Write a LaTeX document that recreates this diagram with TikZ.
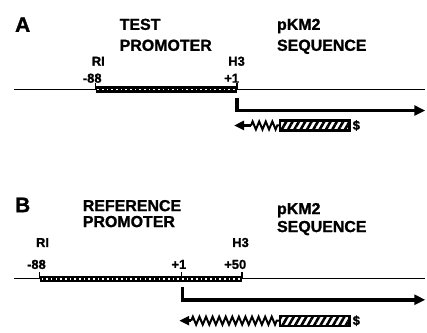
\documentclass[tikz,border=0pt]{standalone}
\usepackage{fontspec}
\setmainfont{Liberation Sans}[BoldFeatures={FakeBold=1.2}]
\usepackage{tikz}
\usetikzlibrary{patterns,patterns.meta}
\usetikzlibrary{arrows.meta,calc,decorations.pathmorphing}
\tikzset{
  pics/caja/.default={70},
  pics/caja/.style = {
    code = {
    \draw[pic actions] (0,-5) rectangle (#1,5);
    }
  },
  letra/.style={font=\bfseries\fontsize{21}{21}\selectfont, inner sep=0pt, anchor=base west},
  rotulo/.style={font=\bfseries\fontsize{16}{16}\selectfont, inner sep=0pt, anchor=base west},
  marca/.style={font=\bfseries\fontsize{13}{13}\selectfont, inner sep=0pt, anchor=base west}
}
\newcommand{\linea}[1]{
  \draw[line width=1.2pt] (14,#1) -- (427,#1);
}
\newcommand{\barra}[3]{
\pgfmathsetmacro\nd{int((#3-#2-5)/4.7)};
 \fill (#2,#1-3.3) rectangle (#3,#1+3.3);
 \foreach \i in {0,...,\nd}{
       \fill[white] (#2+2.5+\i*4.7-0.8,#1-0.8) rectangle +(1.6,1.6);
     }
 \foreach \x in {#2,#3}{
       \draw[line width=1.2pt] (\x,#1-7) -- (\x,#1);
     }}
\newcommand{\transc}[2]{
 \draw[line width=3.5pt, -{Triangle[length=11pt,width=10pt]}] (#1,#2-13) |- (427,#2);
}
\newcommand{\sonda}[4]{
 \draw[line width=2.6pt, -{Triangle[length=10pt,width=9pt]}] (#3,#1) -- (#2,#1);
 \draw[line width=2pt, decorate, decoration={zigzag,segment length=6.6pt,amplitude=4pt}] (#3,#1) -- (281,#1);
 \pic[draw, line width=2.2pt, pattern={Lines[angle=60,distance=5.5pt,line width=2.6pt]}] at (281,#1) {caja};
 \node[marca, anchor=west] (#4) at (354,#1) {\$};
}

\begin{document}
\begin{tikzpicture}[x=1pt,y=-1pt]
        \fill[white] (0,0) rectangle (427,334);
            % A
            \node[letra] (A) at (15,32) {A};
            \node[rotulo] (testA) at (120,30) {TEST};
            \node[rotulo] (promA) at (120,51) {PROMOTER};
            \node[rotulo] (pkmA) at (278,30) {pKM2};
            \node[rotulo] (secA) at (278,51) {SEQUENCE};
            \node[marca] (riA) at (92,66) {RI};
            \node[marca] (htA) at (229,66) {H3};
            \node[marca] (mA) at (83,83) {-88};
            \node[marca] (uA) at (225,83) {+1};
            \linea{90}
            \barra{90}{96}{238}
            \transc{238}{111}
            \sonda{126}{235}{252}{dolA}
            % B
            \node[letra] (B) at (15,213) {B};
            \node[rotulo] (refB) at (83,212) {REFERENCE};
            \node[rotulo] (promB) at (83,228) {PROMOTER};
            \node[rotulo] (pkmB) at (278,215) {pKM2};
            \node[rotulo] (secB) at (278,233) {SEQUENCE};
            \node[marca] (riB) at (36,248) {RI};
            \node[marca] (htB) at (233,248) {H3};
            \node[marca] (mB) at (27,270) {-88};
            \node[marca] (uB) at (172,270) {+1};
            \node[marca] (cB) at (225,270) {+50};
            \linea{280}
            \barra{280}{40}{243}
            \draw[line width=1.2pt] (182,273) -- (182,280);
            \transc{183}{301}
            \sonda{322}{180}{192}{dolB}
        \end{tikzpicture}
\end{document}
